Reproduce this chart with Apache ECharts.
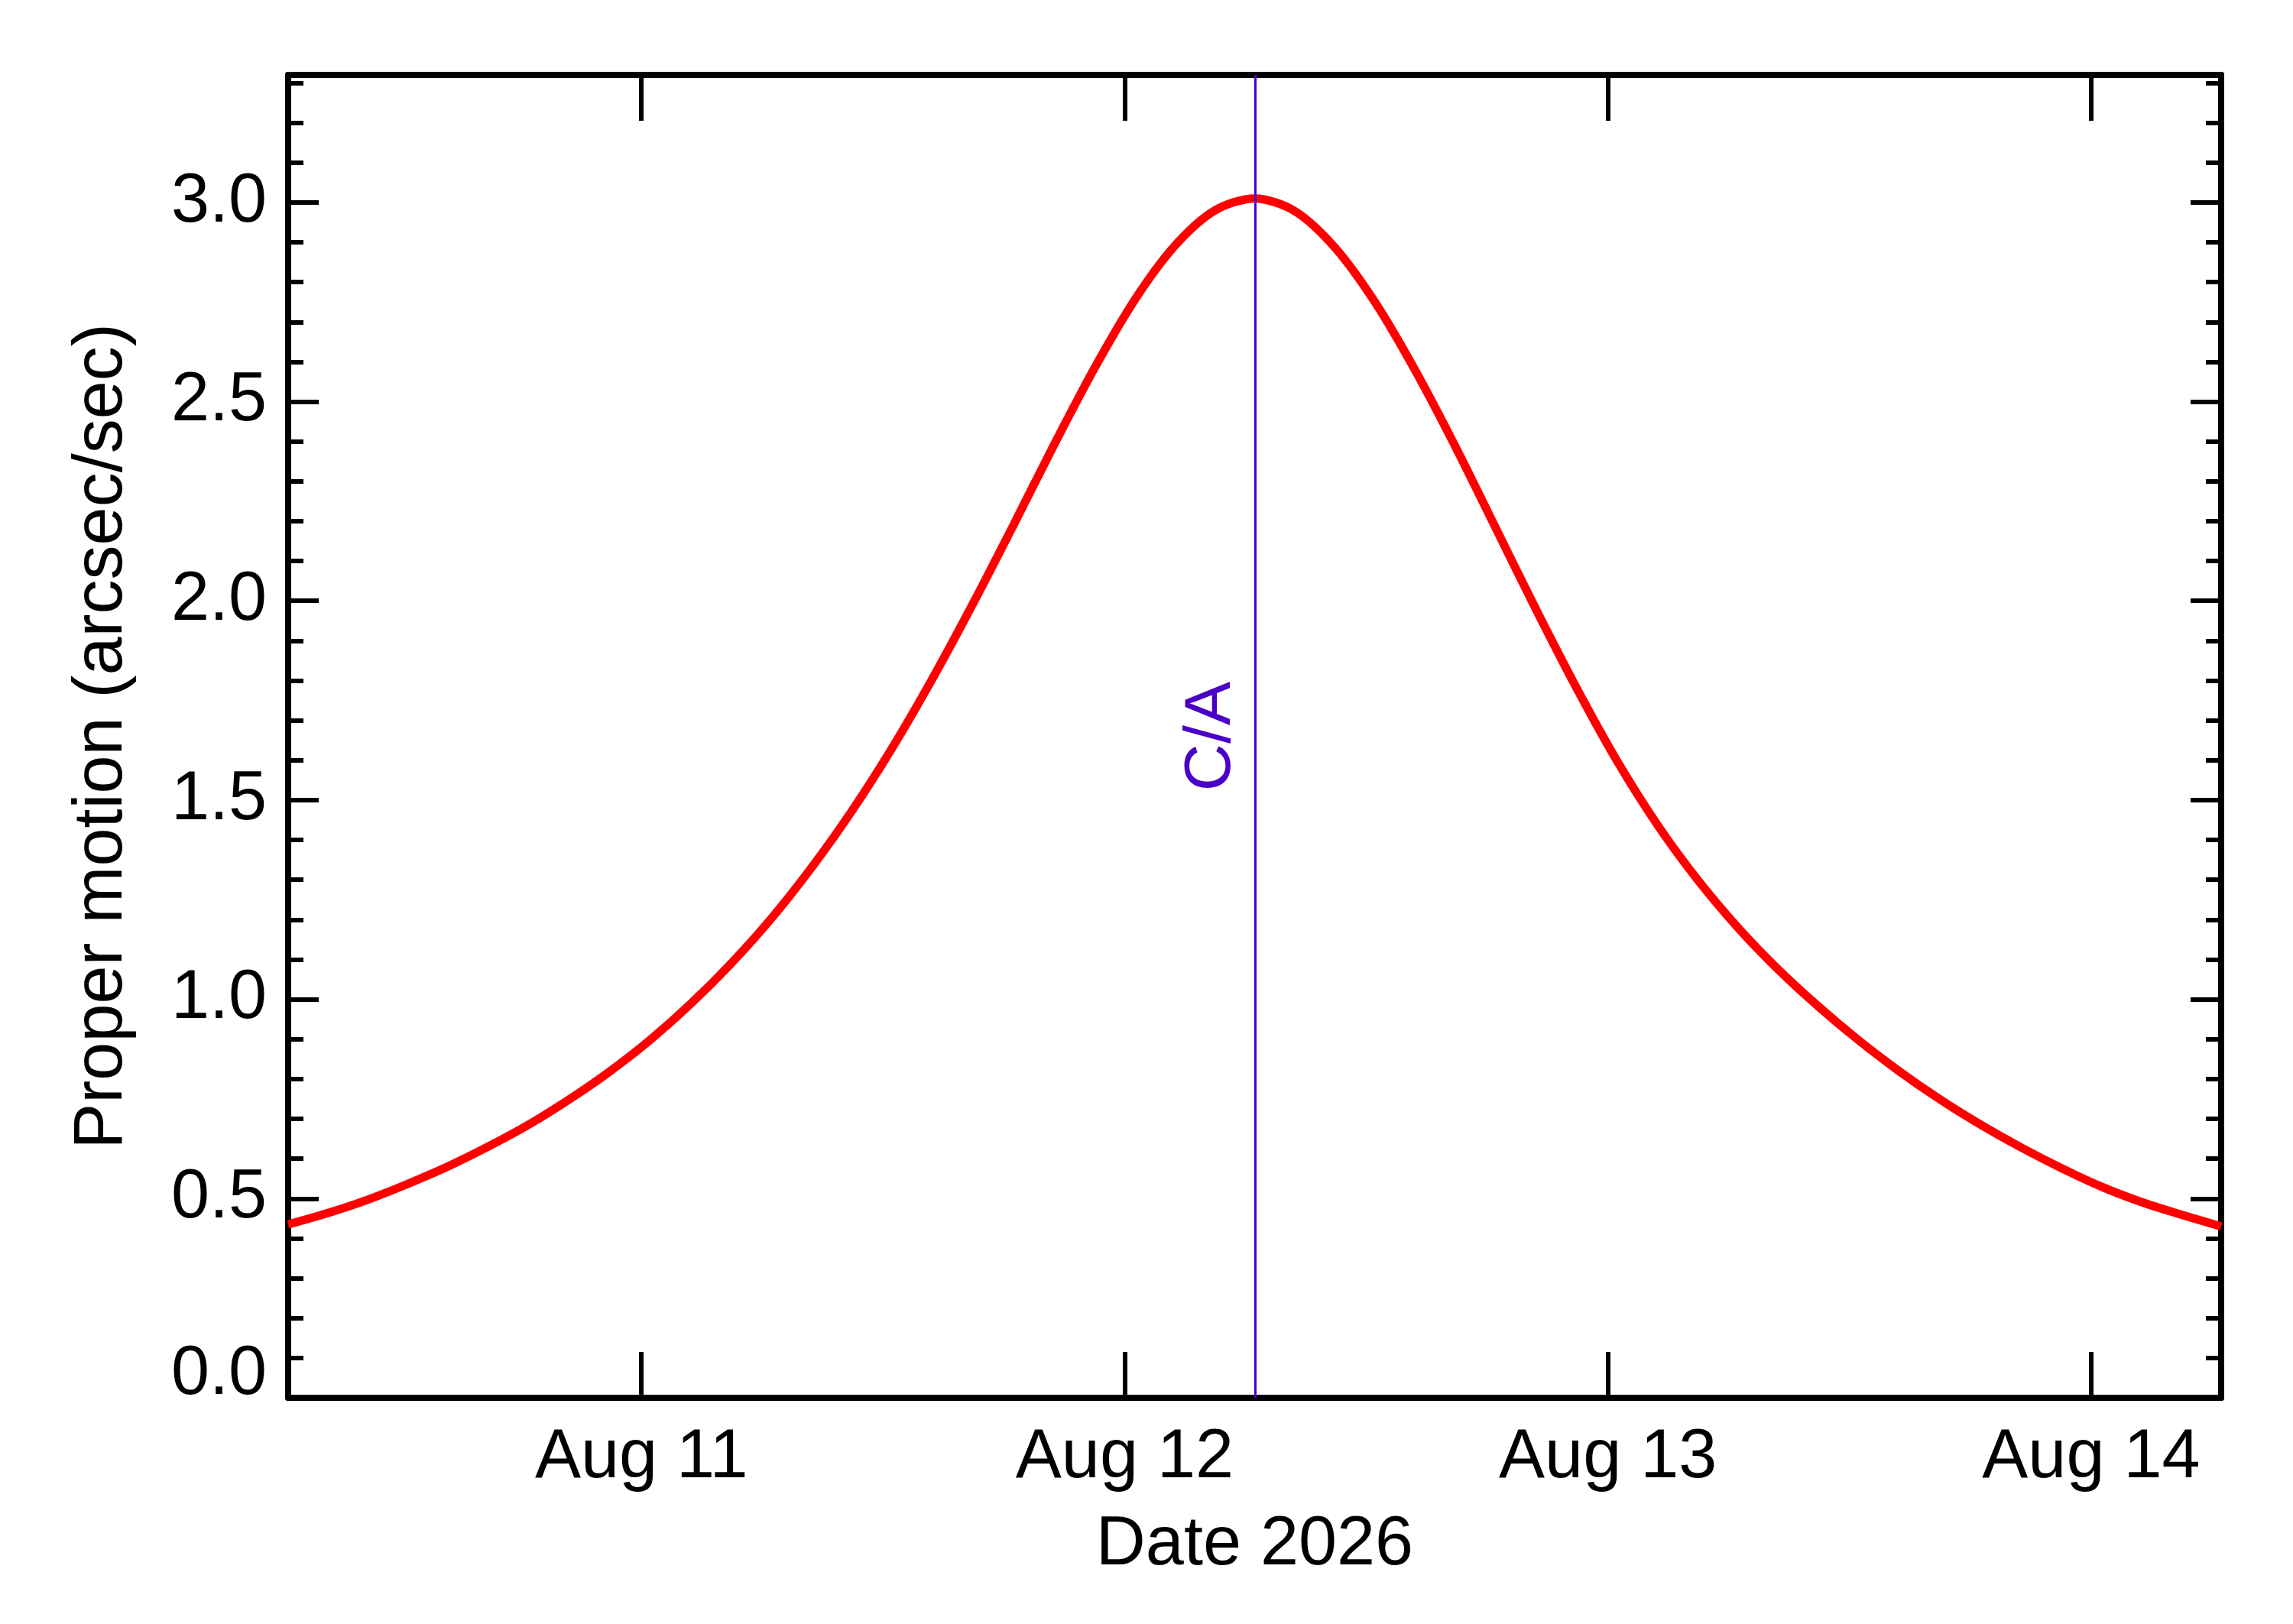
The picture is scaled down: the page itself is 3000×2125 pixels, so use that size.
<!DOCTYPE html>
<html>
<head>
<meta charset="utf-8">
<title>Proper motion</title>
<script src="https://cdn.jsdelivr.net/npm/echarts@6/dist/echarts.min.js"></script>
<style>
  html, body { margin: 0; padding: 0; background: #fff; }
  #chart { width: 3000px; height: 2125px; }
</style>
</head>
<body>
<div id="chart"></div>
<script>
// time of close approach, in days after Aug 10 00:00 (2026)
const caDay = 2.269;
// offsets from close approach (hours) and proper motion
const offsetHours = [-48, -46, -44, -42, -40, -38, -36, -34, -32, -30, -28, -26, -24, -22, -20, -18,
  -16, -14, -12, -10, -8, -6, -4, -2, 0, 2, 4, 6, 8, 10, 12, 14, 16, 18, 20, 22, 24, 26, 28, 30,
  32, 34, 36, 38, 40, 42, 44, 46, 48];
const motion = [0.435, 0.464, 0.498, 0.538, 0.582, 0.632, 0.687, 0.750, 0.820, 0.899, 0.989, 1.090,
  1.203, 1.331, 1.473, 1.631, 1.805, 1.992, 2.188, 2.388, 2.580, 2.752, 2.889, 2.979, 3.010,
  2.978, 2.886, 2.748, 2.576, 2.384, 2.180, 1.976, 1.780, 1.598, 1.438, 1.300, 1.180, 1.075,
  0.982, 0.897, 0.820, 0.750, 0.687, 0.630, 0.578, 0.531, 0.492, 0.460, 0.430];
const dayTicks = [1, 2, 3, 4];
const dayLabels = ['Aug 11', 'Aug 12', 'Aug 13', 'Aug 14'];
const yMajor = [0, 0.5, 1.0, 1.5, 2.0, 2.5, 3.0];

const xMin = caDay - 2, xMax = caDay + 2;
const yMin = 0, yMax = 3.32;
const font = "'Liberation Sans', Arial, Helvetica, sans-serif";

let chart = echarts.init(document.getElementById('chart'), null, { renderer: 'canvas' });

const points = offsetHours.map((h, i) => [caDay + h / 24, motion[i]]);

function xAxisDef(pos, withLabels) {
  return {
    type: 'value', position: pos, min: xMin, max: xMax,
    axisLine: { show: true, onZero: false, lineStyle: { color: '#000', width: 8 } },
    axisTick: { show: true, inside: true, length: 60, customValues: dayTicks, lineStyle: { color: '#000', width: 6 } },
    axisLabel: {
      show: withLabels, customValues: dayTicks, margin: 34,
      color: '#000', fontSize: 90, fontFamily: font,
      formatter: v => dayLabels[dayTicks.indexOf(Math.round(v))] || ''
    },
    splitLine: { show: false },
    name: withLabels ? 'Date 2026' : '', nameLocation: 'middle', nameGap: 148,
    nameTextStyle: { color: '#000', fontSize: 90, fontFamily: font }
  };
}

function yAxisDef(pos, withLabels) {
  return {
    type: 'value', position: pos, min: yMin, max: yMax,
    axisLine: { show: true, onZero: false, lineStyle: { color: '#000', width: 8 } },
    axisTick: { show: true, inside: true, length: 40, customValues: yMajor, lineStyle: { color: '#000', width: 6 } },
    axisLabel: {
      show: withLabels, customValues: yMajor, margin: 28,
      color: '#000', fontSize: 90, fontFamily: font, lineHeight: 60,
      verticalAlignMinLabel: 'bottom',
      formatter: v => v.toFixed(1)
    },
    splitLine: { show: false },
    name: withLabels ? 'Proper motion (arcsec/sec)' : '', nameLocation: 'middle', nameGap: 198,
    nameRotate: 90,
    nameTextStyle: { color: '#000', fontSize: 90, fontFamily: font }
  };
}

// minor ticks every 0.1
function yMinorDef(pos) {
  return {
    type: 'value', position: pos, min: yMin, max: yMax, interval: 0.1,
    axisLine: { show: false },
    axisTick: { show: true, inside: true, length: 20, lineStyle: { color: '#000', width: 6 } },
    axisLabel: { show: false },
    splitLine: { show: false }
  };
}

let option = {
  backgroundColor: '#fff',
  animation: false,
  grid: { left: 377, right: 94, top: 98, bottom: 296, containLabel: false },
  xAxis: [xAxisDef('bottom', true), xAxisDef('top', false)],
  yAxis: [yAxisDef('left', true), yMinorDef('left'), yAxisDef('right', false), yMinorDef('right')],
  series: [{
    type: 'line',
    data: points,
    xAxisIndex: 0, yAxisIndex: 0,
    smooth: 0.3,
    showSymbol: false,
    lineStyle: { color: '#ff0000', width: 11 },
    markLine: {
      silent: true,
      symbol: ['none', 'none'],
      lineStyle: { color: '#4a00c8', width: 3, type: 'solid' },
      label: {
        show: true, position: 'insideMiddleTop', formatter: 'C/A', distance: 14,
        color: '#4a00c8', fontSize: 86, fontFamily: font
      },
      data: [{ xAxis: caDay }]
    }
  }]
};

chart.setOption(option);
</script>
</body>
</html>
